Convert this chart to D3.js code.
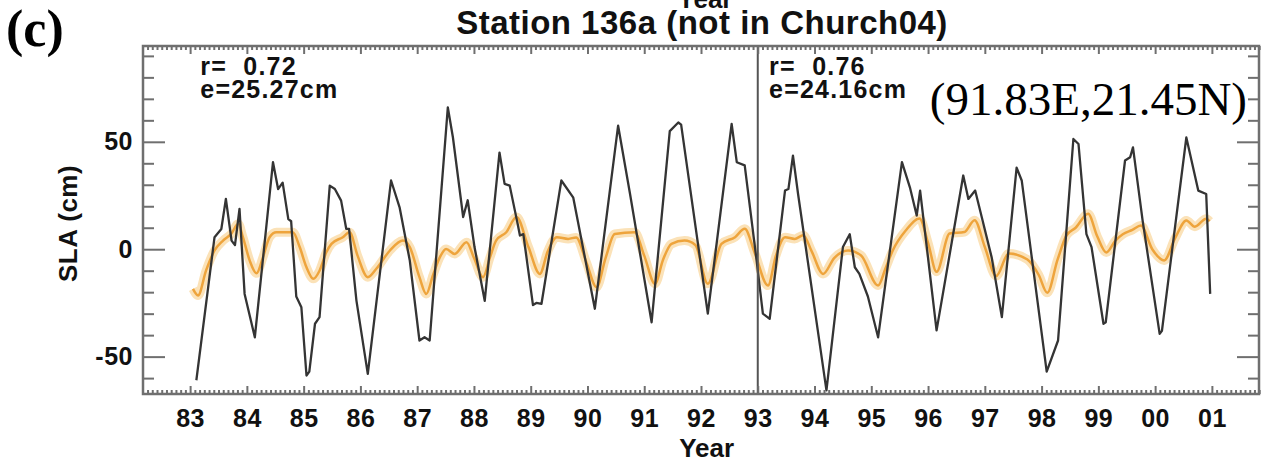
<!DOCTYPE html>
<html>
<head>
<meta charset="utf-8">
<script src="https://cdn.jsdelivr.net/npm/d3@7"></script>
<style>
    html, body { margin: 0; padding: 0; background: #fff; }
    svg { display: block; }
</style>
</head>
<body>
<div id="chart"></div>
<script>
const obsYear = [1983.11, 1983.43, 1983.55, 1983.63, 1983.73, 1983.79, 1983.87, 1983.96, 1984.14, 1984.46,
    1984.55, 1984.63, 1984.73, 1984.78, 1984.87, 1984.96, 1985.05, 1985.10, 1985.20, 1985.28,
    1985.46, 1985.55, 1985.66, 1985.75, 1985.80, 1985.93, 1986.13, 1986.54, 1986.69, 1986.87,
    1987.04, 1987.13, 1987.22, 1987.54, 1987.63, 1987.81, 1987.89, 1988.01, 1988.19, 1988.45,
    1988.54, 1988.63, 1988.77, 1988.81, 1988.87, 1989.04, 1989.10, 1989.19, 1989.54, 1989.75,
    1990.13, 1990.54, 1990.75, 1991.13, 1991.45, 1991.60, 1991.65, 1992.12, 1992.54, 1992.63,
    1992.77, 1992.98, 1993.09, 1993.21, 1993.48, 1993.54, 1993.62, 1993.71, 1994.21, 1994.50,
    1994.62, 1994.71, 1994.79, 1994.94, 1995.12, 1995.54, 1995.68, 1995.80, 1995.86, 1996.15,
    1996.62, 1996.71, 1996.83, 1997.12, 1997.30, 1997.56, 1997.65, 1998.09, 1998.29, 1998.56,
    1998.65, 1998.79, 1998.88, 1999.09, 1999.13, 1999.47, 1999.56, 1999.61, 1999.78, 2000.08,
    2000.12, 2000.55, 2000.76, 2000.90, 2000.97];
const obsSla = [-61, 5.6, 9.4, 23.4, 4, 1.9, 18.8, -20.8, -41, 40.5,
    28, 31, 14, 13, -22, -27, -58.8, -57, -34.7, -31.6,
    29.6, 28, 22.6, 9.5, 9.5, -23.9, -58, 32, 19.5, -5.3,
    -42.5, -41, -42.5, 66, 52, 15, 22.8, 1, -24, 45,
    30.4, 29.6, 11.8, 6.4, 7, -26, -25, -25.4, 32, 24,
    -27.7, 57.5, 25.7, -34, 55, 59, 58, -30, 58.3, 40.5,
    39, -5.3, -30, -32.4, 27.3, 28, 43.6, 25.7, -65.7, 1,
    7, -8.4, -11.5, -22, -41, 40.5, 28.8, 15.7, 27.3, -37.8,
    34.3, 23.4, 27.3, -3.7, -31.6, 38, 32, -57, -42.5, 51.3,
    49, 7, 1, -34.7, -34, 41.3, 42.8, 47.4, 13.3, -39.4,
    -38, 52, 27.3, 25.7, -20.8];

// model SLA (orange)
const modYear = [1983.05, 1983.14, 1983.28, 1983.43, 1983.58, 1983.72, 1983.85, 1983.93, 1984.05, 1984.17,
    1984.28, 1984.40, 1984.52, 1984.81, 1984.93, 1985.05, 1985.17, 1985.28, 1985.40, 1985.49,
    1985.69, 1985.81, 1985.95, 1986.13, 1986.28, 1986.52, 1986.75, 1986.87, 1987.04, 1987.16,
    1987.28, 1987.40, 1987.51, 1987.66, 1987.87, 1988.00, 1988.16, 1988.28, 1988.39, 1988.57,
    1988.75, 1988.96, 1989.16, 1989.30, 1989.46, 1989.66, 1989.80, 1989.98, 1990.16, 1990.32,
    1990.48, 1990.83, 1991.00, 1991.19, 1991.33, 1991.48, 1991.71, 1991.90, 1992.12, 1992.36,
    1992.60, 1992.77, 1992.95, 1993.18, 1993.32, 1993.48, 1993.65, 1993.80, 1993.95, 1994.15,
    1994.35, 1994.59, 1994.82, 1995.12, 1995.25, 1995.38, 1995.61, 1995.85, 1996.00, 1996.15,
    1996.38, 1996.64, 1996.82, 1997.00, 1997.20, 1997.42, 1997.75, 1997.95, 1998.10, 1998.28,
    1998.44, 1998.60, 1998.82, 1998.98, 1999.14, 1999.30, 1999.43, 1999.60, 1999.75, 1999.95,
    2000.16, 2000.35, 2000.55, 2000.70, 2000.90, 2000.96];
const modSla = [-18.5, -21.5, -10, -0.6, 4, 7, 11.8, 5.6, -5.3, -11.2,
    -4, 5.6, 7.9, 7.9, 1, -8.4, -13.8, -10, -1.4, 2.5,
    5.6, 7.9, -3, -13, -9.1, -0.6, 4, 1, -13, -20.8,
    -12, -3.7, 0.1, -2.2, 3.3, -4, -13, -4, 4, 7.9,
    15, 1, -11.5, -1, 5.6, 4.8, 5.5, -6, -17.7, -4,
    7.1, 7.9, -3, -16.1, -5, 2.5, 4, 2, -16.1, 2.5,
    5.6, 9.5, -2, -16.9, -3, 5.6, 4.8, 6.5, -1, -11.5,
    -4, -0.6, -2.9, -16.9, -9, -0.5, 8.8, 14.3, 3, -10.5,
    7.3, 8, 13.5, 1, -12.5, -2, -4.8, -12, -20.3, -5,
    6.5, 10, 16.5, 6, -1.5, 4, 7, 9, 11, 0,
    -5.2, 5, 13.4, 10.5, 14.2, 13];

const xTickYears = [1983, 1984, 1985, 1986, 1987, 1988, 1989, 1990, 1991, 1992,
    1993, 1994, 1995, 1996, 1997, 1998, 1999, 2000, 2001];
const xTickLabels = ["83", "84", "85", "86", "87", "88", "89", "90", "91", "92",
    "93", "94", "95", "96", "97", "98", "99", "00", "01"];
const yMajorTicks = [-50, 0, 50];
const yTickLabels = ["-50", "0", "50"];
const yMinorTicks = [-60, -40, -30, -20, -10, 10, 20, 30, 40, 60, 70, 80, 90];
const splitYear = 1993;
const statLines = [["r=  0.72", "e=25.27cm"], ["r=  0.76", "e=24.16cm"]];
const statYears = [1983.18, 1993.2];

(function() {
    const config = {
        colors: {
            frame: "#6f6f6f",
            obs: "#343434",
            model: "#eea43c",
            halo: "#fbe2b8",
            text: "#111"
        },
        fonts: {
            sans: '"Liberation Sans", Arial, Helvetica, sans-serif',
            serif: '"Liberation Serif", "Times New Roman", serif'
        }
    };

    const W = 1264, H = 464;
    const margin = { top: 46, right: 5, bottom: 70, left: 143 };
    const width = W - margin.left - margin.right;
    const height = H - margin.top - margin.bottom;

    const svg = d3.select("#chart").append("svg")
        .attr("width", W)
        .attr("height", H);

    const x = d3.scaleLinear().domain([1982.17, 2001.83]).range([0, width]);
    const y = d3.scaleLinear().domain([-67.4, 94.6]).range([height, 0]);

    const g = svg.append("g").attr("transform", `translate(${margin.left},${margin.top})`);

    g.append("clipPath").attr("id", "plot-clip")
        .append("rect").attr("width", width).attr("height", height);

    const obs = obsYear.map((t, i) => ({ year: t, sla: obsSla[i] }));
    const mod = modYear.map((t, i) => ({ year: t, sla: modSla[i] }));

    // model line with a soft halo
    const modLine = d3.line().x(d => x(d.year)).y(d => y(d.sla)).curve(d3.curveMonotoneX);
    const plot = g.append("g").attr("clip-path", "url(#plot-clip)");
    plot.append("path").datum(mod)
        .attr("d", modLine)
        .attr("fill", "none")
        .attr("stroke", config.colors.halo)
        .attr("stroke-width", 9)
        .attr("stroke-linejoin", "round");
    plot.append("path").datum(mod)
        .attr("d", modLine)
        .attr("fill", "none")
        .attr("stroke", config.colors.model)
        .attr("stroke-width", 2.5)
        .attr("stroke-linejoin", "round");

    const obsLine = d3.line().x(d => x(d.year)).y(d => y(d.sla));
    plot.append("path").datum(obs)
        .attr("d", obsLine)
        .attr("fill", "none")
        .attr("stroke", config.colors.obs)
        .attr("stroke-width", 2.3)
        .attr("stroke-linejoin", "round");

    // split line at 1993
    g.append("line")
        .attr("x1", x(splitYear)).attr("x2", x(splitYear))
        .attr("y1", 0).attr("y2", height)
        .attr("stroke", "#555")
        .attr("stroke-width", 2);

    // axes, ticks pointing inward
    const months = d3.range(1982.25, 2001.9, 1 / 12).filter(m => Math.abs(m - Math.round(m)) > 0.01);
    const styleAxis = sel => {
        sel.select(".domain").remove();
        sel.selectAll(".tick line").attr("stroke", config.colors.frame).attr("stroke-width", 2);
    };
    const styleLabels = sel => sel.selectAll("text")
        .attr("font-family", config.fonts.sans)
        .attr("font-weight", "bold")
        .attr("font-size", "25px")
        .attr("letter-spacing", "0.5px")
        .attr("fill", config.colors.text);

    g.append("g").attr("transform", `translate(0,${height})`)
        .call(d3.axisBottom(x).tickValues(months).tickSize(-4).tickFormat(""))
        .call(styleAxis);
    g.append("g").attr("transform", `translate(0,${height})`)
        .call(d3.axisBottom(x).tickValues(xTickYears).tickSize(-8).tickPadding(15)
            .tickFormat((d, i) => xTickLabels[i]))
        .call(styleAxis)
        .call(styleLabels);

    g.append("g")
        .call(d3.axisTop(x).tickValues(months).tickSize(-4).tickFormat(""))
        .call(styleAxis);
    g.append("g")
        .call(d3.axisTop(x).tickValues(xTickYears).tickSize(-8).tickFormat(""))
        .call(styleAxis);

    g.append("g")
        .call(d3.axisLeft(y).tickValues(yMinorTicks).tickSize(-11).tickFormat(""))
        .call(styleAxis);
    g.append("g")
        .call(d3.axisLeft(y).tickValues(yMajorTicks).tickSize(-22).tickPadding(10)
            .tickFormat((d, i) => yTickLabels[i]))
        .call(styleAxis)
        .call(styleLabels);

    g.append("g").attr("transform", `translate(${width},0)`)
        .call(d3.axisRight(y).tickValues(yMinorTicks).tickSize(-11).tickFormat(""))
        .call(styleAxis);
    g.append("g").attr("transform", `translate(${width},0)`)
        .call(d3.axisRight(y).tickValues(yMajorTicks).tickSize(-22).tickFormat(""))
        .call(styleAxis);

    // frame
    g.append("rect")
        .attr("width", width).attr("height", height)
        .attr("fill", "none")
        .attr("stroke", config.colors.frame)
        .attr("stroke-width", 2.5);

    // statistics for the two periods
    statLines.forEach((lines, k) => {
        const t = g.append("text")
            .attr("font-family", config.fonts.sans)
            .attr("font-weight", "bold")
            .attr("font-size", "25px")
            .attr("letter-spacing", "1.2px")
            .attr("fill", config.colors.text)
            .style("white-space", "pre");
        lines.forEach((s, j) => {
            t.append("tspan")
                .attr("x", x(statYears[k]))
                .attr("y", 29 + j * 23)
                .text(s);
        });
    });

    // titles and labels
    svg.append("text")
        .attr("x", 705).attr("y", 8)
        .attr("text-anchor", "middle")
        .attr("font-family", config.fonts.sans)
        .attr("font-weight", "bold")
        .attr("font-size", "26px")
        .attr("fill", config.colors.text)
        .text("Year");

    svg.append("text")
        .attr("x", 702).attr("y", 34)
        .attr("text-anchor", "middle")
        .attr("font-family", config.fonts.sans)
        .attr("font-weight", "bold")
        .attr("font-size", "33px")
        .attr("letter-spacing", "0.5px")
        .attr("fill", config.colors.text)
        .text("Station 136a (not in Church04)");

    svg.append("text")
        .attr("x", margin.left + x(1992.1)).attr("y", H - 7)
        .attr("text-anchor", "middle")
        .attr("font-family", config.fonts.sans)
        .attr("font-weight", "bold")
        .attr("font-size", "26px")
        .attr("fill", config.colors.text)
        .text("Year");

    svg.append("text")
        .attr("transform", `translate(77,${margin.top + y(12)}) rotate(-90)`)
        .attr("text-anchor", "middle")
        .attr("font-family", config.fonts.sans)
        .attr("font-weight", "bold")
        .attr("font-size", "26px")
        .attr("letter-spacing", "0.5px")
        .attr("fill", config.colors.text)
        .text("SLA (cm)");

    svg.append("text")
        .attr("x", 6).attr("y", 46)
        .attr("font-family", config.fonts.serif)
        .attr("font-weight", "bold")
        .attr("font-size", "52px")
        .attr("fill", "#000")
        .text("(c)");

    svg.append("text")
        .attr("x", 1247).attr("y", 115)
        .attr("text-anchor", "end")
        .attr("font-family", config.fonts.serif)
        .attr("font-size", "47px")
        .attr("fill", "#000")
        .text("(91.83E,21.45N)");
})();
</script>
</body>
</html>
